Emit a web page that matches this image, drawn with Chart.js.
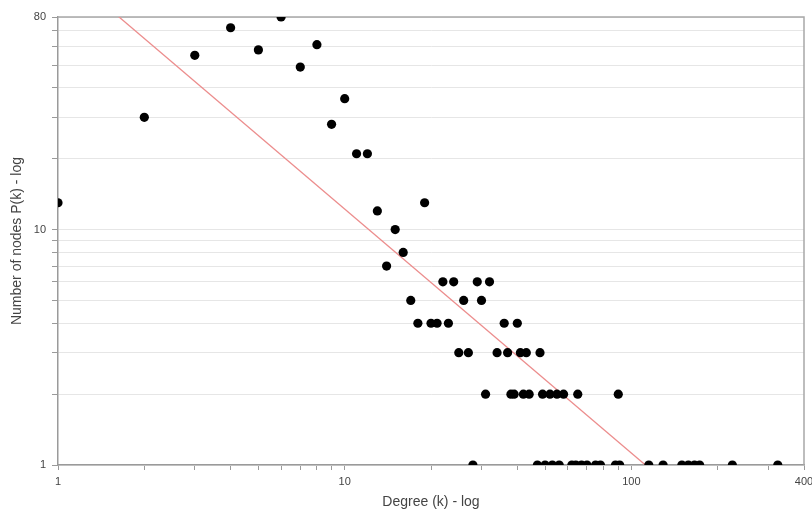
<!DOCTYPE html>
<html>
<head>
<meta charset="utf-8">
<script src="https://cdn.jsdelivr.net/npm/chart.js@4/dist/chart.umd.min.js"></script>
<style>
html, body { margin: 0; padding: 0; background: #fff; }
</style>
</head>
<body>
<canvas id="chart_degree" width="812" height="511"></canvas>
<script>
// degree distribution
var degree = [1, 2, 3, 4, 5, 6, 7, 8, 9, 10, 11, 12, 13, 14, 15, 16, 17, 18, 19, 20,
              21, 22, 23, 24, 25, 26, 27, 28, 29, 30, 31, 32, 34, 36, 37, 38, 39, 40, 41, 42,
              43, 44, 47, 48, 49, 50, 52, 53, 55, 56, 58, 62, 64, 65, 67, 70, 75, 78, 88, 90,
              91, 115, 129, 150, 158, 166, 173, 225, 324]
var nodes  = [13, 30, 55, 72, 58, 80, 49, 61, 28, 36, 21, 21, 12, 7, 10, 8, 5, 4, 13, 4,
              4, 6, 4, 6, 3, 5, 3, 1, 6, 5, 2, 6, 3, 4, 3, 2, 2, 4, 3, 2,
              3, 2, 1, 3, 2, 1, 2, 1, 2, 1, 2, 1, 1, 2, 1, 1, 1, 1, 1, 2,
              1, 1, 1, 1, 1, 1, 1, 1, 1]

// power law fit line, ends at the axis limits
var fitDegree = [1, 400]
var fitNodes = [133, 0.267]

var xTickValues = [1, 2, 3, 4, 5, 6, 7, 8, 9, 10, 20, 30, 40, 50, 60, 70, 80, 90, 100, 200, 300, 400]
var xTickLabels = [1, 10, 100, 400]
var yTickValues = [1, 2, 3, 4, 5, 6, 7, 8, 9, 10, 20, 30, 40, 50, 60, 70, 80]
var yTickLabels = [1, 10, 80]

var font = '"Liberation Sans", Arial, sans-serif'

var framePlugin = {
    id: 'frame',
    beforeDatasetsDraw: function(chart) {
        var a = chart.chartArea
        var c = chart.ctx
        c.save()
        c.strokeStyle = '#a8a8a8'
        c.lineWidth = 1.5
        c.beginPath()
        c.moveTo(a.left, a.top)
        c.lineTo(a.right, a.top)
        c.lineTo(a.right, a.bottom)
        c.stroke()
        c.restore()
    }
}

var points = degree.map(function(d, i) { return { x: d, y: nodes[i] } })
var fit = fitDegree.map(function(d, i) { return { x: d, y: fitNodes[i] } })

var ctx = document.getElementById('chart_degree')

var chartDegree = new Chart(ctx, {
    type: 'scatter',
    data: {
        datasets: [
            {
                label: 'nodes',
                data: points,
                backgroundColor: '#000',
                borderWidth: 0,
                pointRadius: 4.6,
                clip: 0
            },
            {
                label: 'fit',
                data: fit,
                showLine: true,
                borderColor: '#ec8d8d',
                borderWidth: 1.3,
                pointRadius: 0,
                clip: 0
            }
        ]
    },
    options: {
        responsive: false,
        animation: false,
        devicePixelRatio: 1,
        layout: { padding: { top: 17, right: 8, left: 0, bottom: 0 } },
        plugins: {
            legend: { display: false },
            tooltip: { enabled: false }
        },
        scales: {
            x: {
                type: 'logarithmic',
                min: 1,
                max: 400,
                afterBuildTicks: function(scale) {
                    scale.ticks = xTickValues.map(function(v) { return { value: v } })
                },
                afterFit: function(scale) {
                    scale.height = 46
                    scale.paddingRight = 0
                    scale.paddingLeft = 0
                },
                border: { display: true, color: '#9a9a9a', width: 1.5 },
                grid: { drawOnChartArea: false, drawTicks: true, tickLength: 5, tickColor: '#9a9a9a' },
                ticks: {
                    autoSkip: false,
                    maxRotation: 0,
                    padding: 5,
                    color: '#444',
                    font: { family: font, size: 11 },
                    callback: function(value) {
                        return xTickLabels.indexOf(value) >= 0 ? String(value) : ''
                    }
                },
                title: {
                    display: true,
                    text: 'Degree (k) - log',
                    color: '#444',
                    font: { family: font, size: 14 },
                    padding: { top: 0, bottom: 0 }
                }
            },
            y: {
                type: 'logarithmic',
                min: 1,
                max: 80,
                afterBuildTicks: function(scale) {
                    scale.ticks = yTickValues.map(function(v) { return { value: v } })
                },
                afterFit: function(scale) {
                    scale.width = 58
                },
                border: { display: true, color: '#9a9a9a', width: 1.5 },
                grid: { color: '#e6e6e6', lineWidth: 1, drawTicks: true, tickLength: 6, tickColor: '#9a9a9a' },
                ticks: {
                    autoSkip: false,
                    padding: 6,
                    color: '#444',
                    font: { family: font, size: 11 },
                    callback: function(value) {
                        return yTickLabels.indexOf(value) >= 0 ? String(value) : ''
                    }
                },
                title: {
                    display: true,
                    text: 'Number of nodes P(k) - log',
                    color: '#444',
                    font: { family: font, size: 14 },
                    padding: { top: 9, bottom: 0 }
                }
            }
        }
    },
    plugins: [framePlugin]
});
</script>
</body>
</html>
